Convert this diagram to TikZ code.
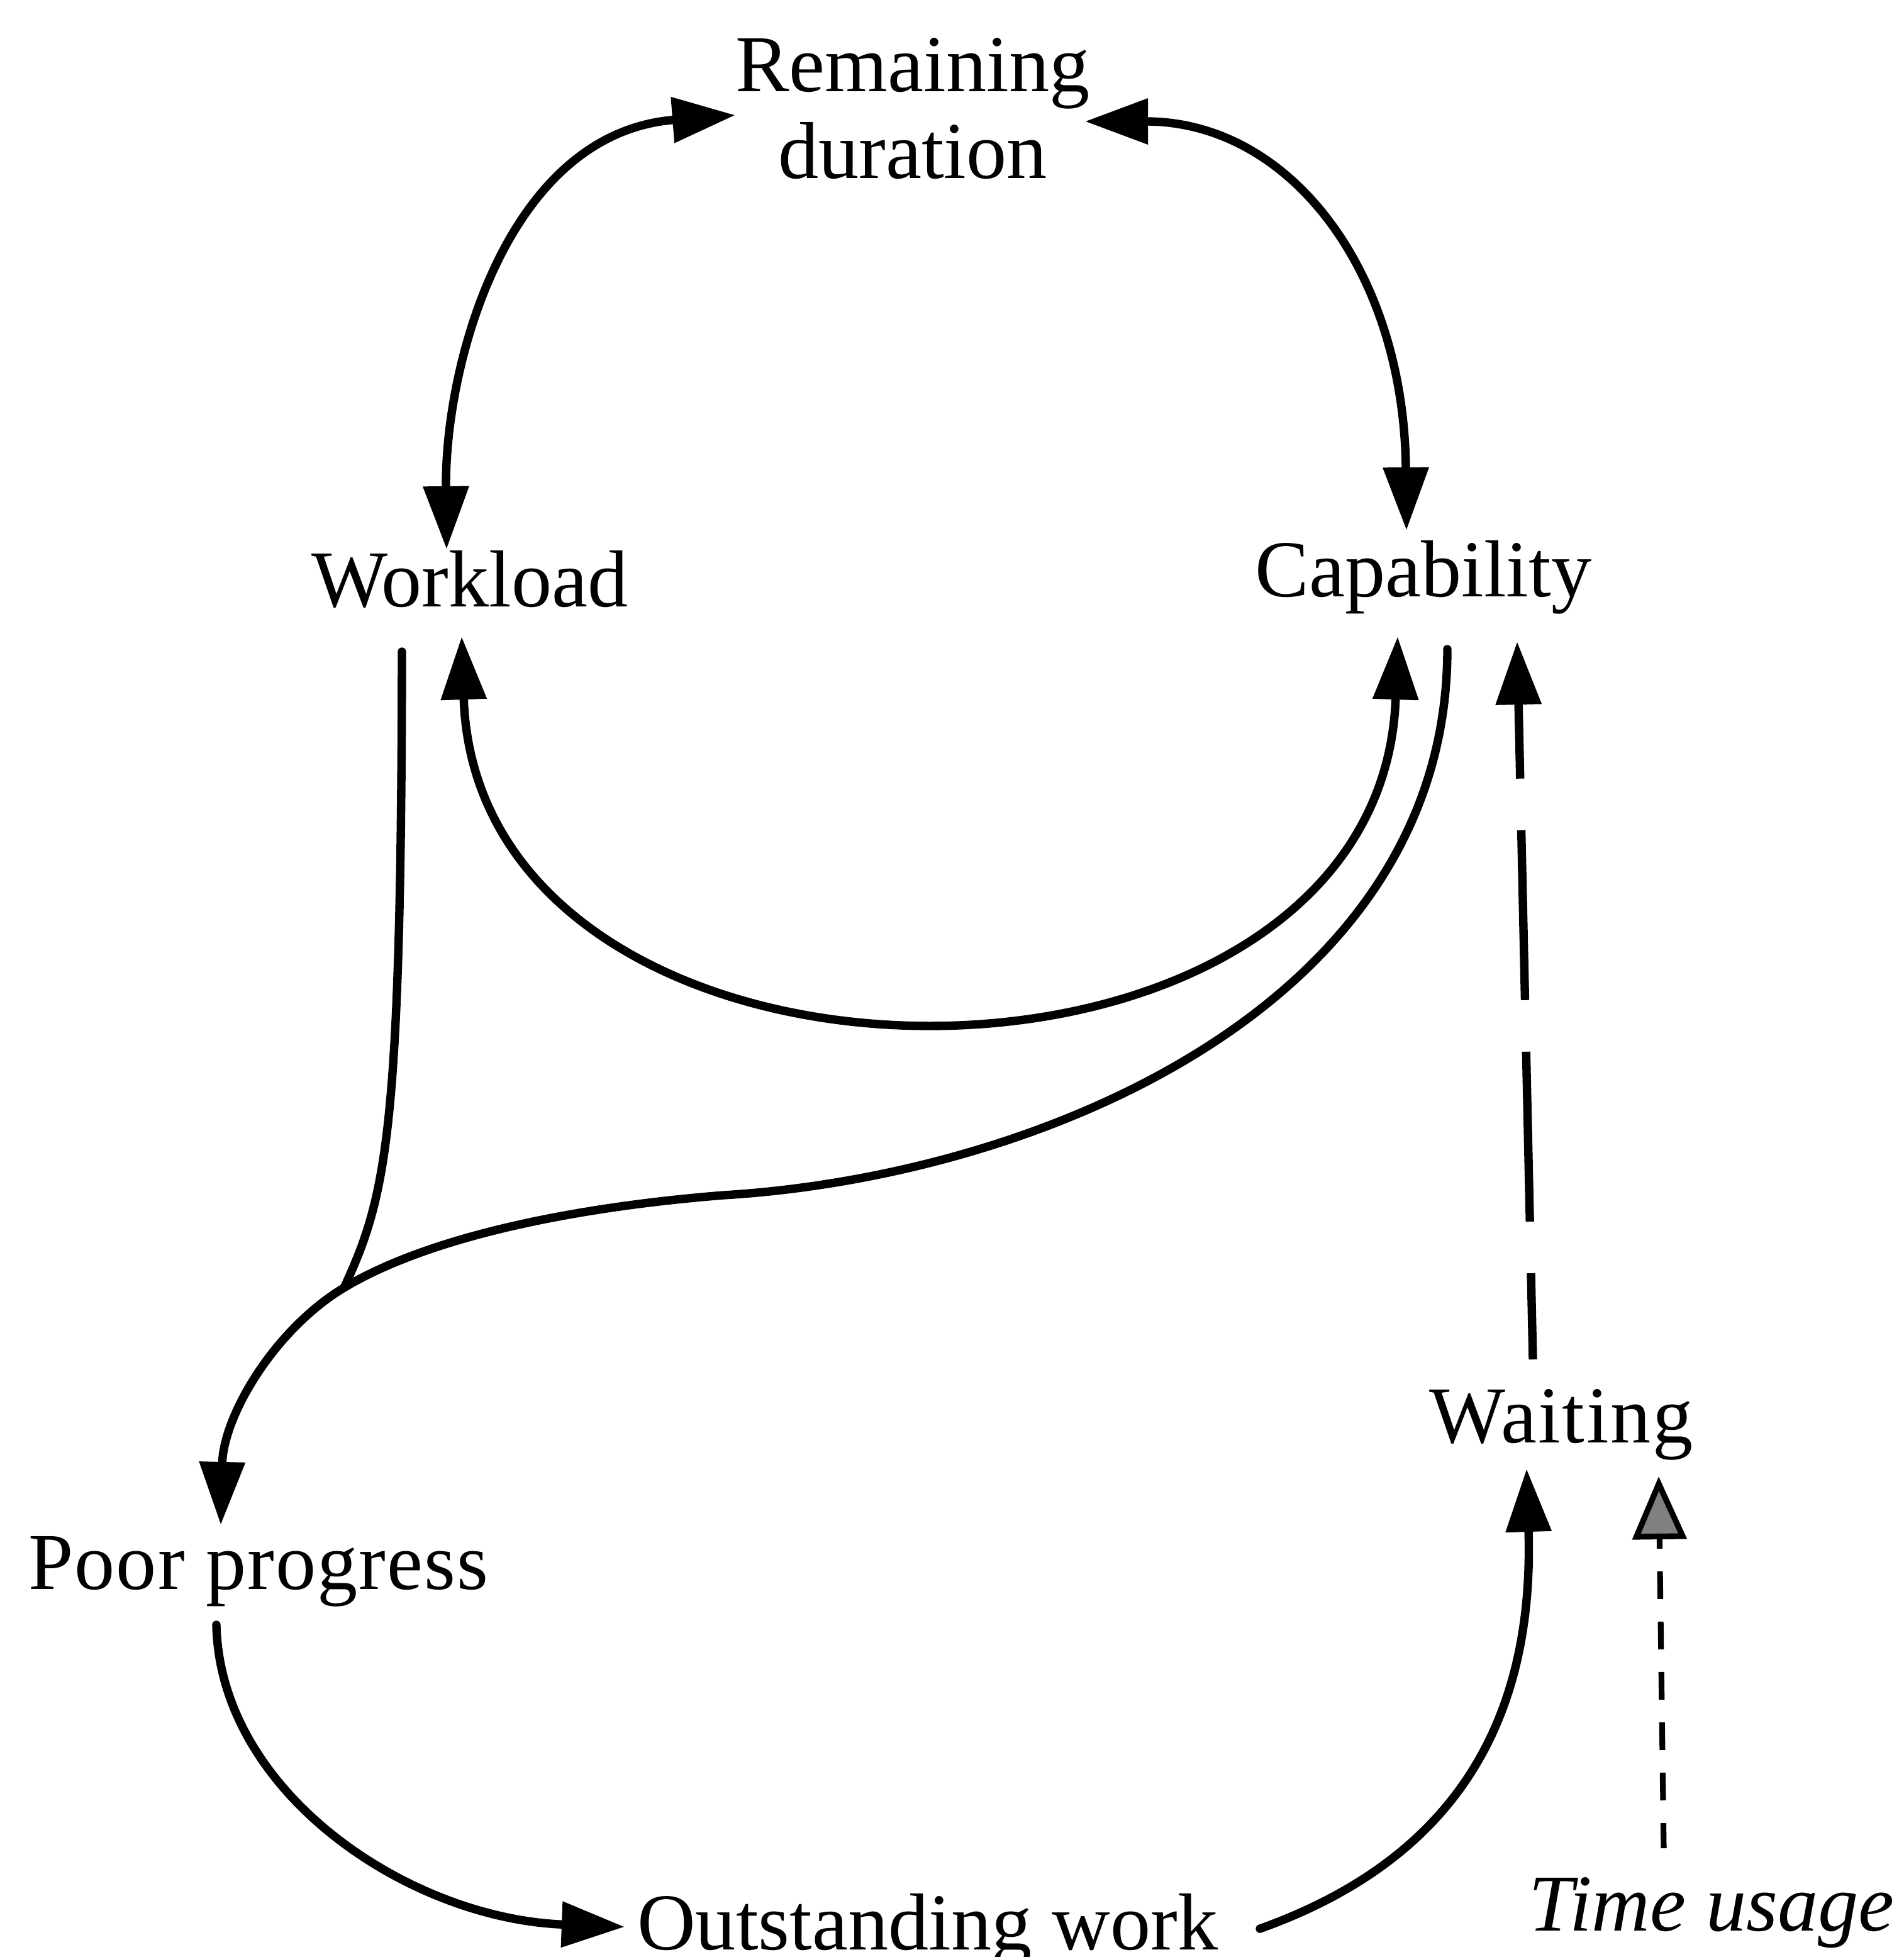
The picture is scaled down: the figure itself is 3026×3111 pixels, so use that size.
\documentclass[tikz,border=0pt]{standalone}
\usepackage{fontspec}
\setmainfont{Liberation Serif}
\usetikzlibrary{arrows.meta}
\begin{document}
\begin{tikzpicture}[x=0.01cm, y={(0cm,-0.01cm)},
  lbl/.style={inner sep=0pt, anchor=base, font=\fontsize{36.5}{39.2}\selectfont},
  link/.style={line width=3.8pt, line cap=round},
  head/.style={-{Triangle[length=1cm,width=0.7cm]}},
  heads/.style={{Triangle[length=1cm,width=0.7cm]}-{Triangle[length=1cm,width=0.7cm]}},
  longdash/.style={line width=3.8pt, dash pattern=on 2.7cm off 0.82cm, dash phase=1.33cm},
  shortdash/.style={line width=2.6pt, dash pattern=on 0.44cm off 0.36cm, dash phase=0.04cm,
    -{Triangle[length=1cm,width=0.85cm,fill=black!50]}}
]
\fill[white] (0,0) rectangle (3026,3111);
\useasboundingbox (0,0) rectangle (3026,3111);
\clip (0,0) rectangle (3026,3111);

% labels
\node[lbl, align=center] (rd) at (1451,283) {Remaining\\duration};
\node[lbl] (wl) at (747,964) {Workload};
\node[lbl] (cap) at (2263,948) {Capability};
\node[lbl] (pp) at (411,2526) {\addfontfeature{LetterSpace=1.5}Poor progress};
\node[lbl] (wt) at (2482,2293) {\addfontfeature{LetterSpace=2}Waiting};
\node[lbl] (ow) at (1475,3099) {Outstanding work};
\node[lbl, anchor=base west, font=\fontsize{36.5}{39.2}\selectfont\itshape] (tu) at (2430,3069) {Time usage};

% connection ports
\coordinate (wl-n) at (710,873);
\coordinate (wl-s) at (734,1012);
\coordinate (wl-out) at (639,1036);
\coordinate (rd-w) at (1169,183);
\coordinate (rd-e) at (1725,193);
\coordinate (cap-n) at (2236,843);
\coordinate (cap-s) at (2222,1012);
\coordinate (cap-out) at (2301,1032);
\coordinate (cap-in) at (2412,1020);
\coordinate (j) at (547,2047);
\coordinate (pp-n) at (351,2424);
\coordinate (pp-s) at (344,2583);
\coordinate (ow-w) at (993,3063);
\coordinate (ow-e) at (2003,3066);
\coordinate (wt-s) at (2427,2335);
\coordinate (wt-n) at (2437,2161);
\coordinate (wt-se) at (2637,2347);
\coordinate (tu-n) at (2645,2938);

% upper loop
\draw[link, heads] (wl-n) .. controls (707,576) and (808,211) .. (rd-w);
\draw[link, heads] (rd-e) .. controls (2050,193) and (2232,430) .. (cap-n);
% lower arc
\draw[link, heads] (wl-s) .. controls (760,1805) and (2196,1805) .. (cap-s);
% workload feeds into the S-curve
\draw[link] (wl-out) .. controls (638,1800) and (615,1900) .. (j);
\draw[link, head] (cap-out) .. controls (2301,1600) and (1650,1870) .. (1150,1900)
  .. controls (900,1920) and (677,1969) .. (j)
  .. controls (437,2113) and (355,2250) .. (pp-n);
% bottom chain
\draw[link, head] (pp-s) .. controls (350,2850) and (650,3050) .. (ow-w);
\draw[link, head] (ow-e) .. controls (2300,2960) and (2440,2750) .. (wt-s);
% dashed influences
\draw[longdash, head] (wt-n) -- (cap-in);
\draw[shortdash] (tu-n) -- (wt-se);
\end{tikzpicture}
\end{document}
